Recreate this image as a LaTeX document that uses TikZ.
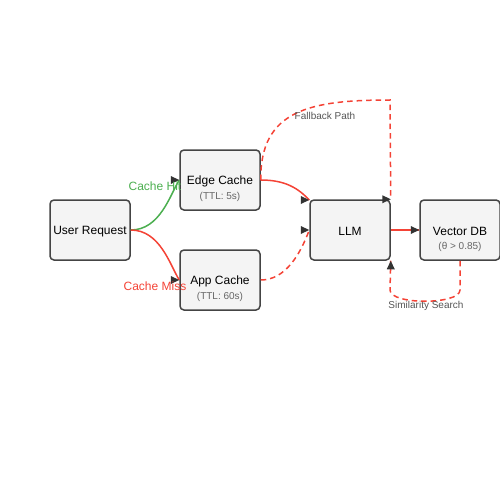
\documentclass[tikz,border=0pt]{standalone}
\usepackage{fontspec}
\setmainfont{Liberation Sans}
\definecolor{boxfill}{HTML}{F4F4F4}
\definecolor{boxline}{HTML}{444444}
\definecolor{hitgreen}{HTML}{4CAF50}
\definecolor{missred}{HTML}{F44336}
\definecolor{tipcol}{HTML}{333333}
\definecolor{subgray}{HTML}{666666}
\definecolor{lblgray}{HTML}{555555}
\begin{document}
\begin{tikzpicture}[x=1pt,y=-1pt,
  box/.style={draw=boxline,line width=1.5pt,fill=boxfill,rounded corners=4pt,minimum width=80pt,minimum height=60pt,inner sep=0pt},
  title/.style={font=\fontsize{12}{14}\selectfont,text=black,inner sep=0pt},
  sub/.style={font=\fontsize{10}{12}\selectfont,text=subgray,inner sep=0pt},
  solidred/.style={draw=missred,line width=1.5pt},
  dashred/.style={draw=missred,line width=1.5pt,dash pattern=on 5.5pt off 4pt},
  solidgreen/.style={draw=hitgreen,line width=1.5pt},
  edgelbl/.style={font=\fontsize{12}{14}\selectfont,inner sep=0pt},
  pathlbl/.style={font=\fontsize{10}{12}\selectfont,text=lblgray,inner sep=0pt},
  tipr/.style={fill=tipcol},
]
\useasboundingbox (0,0) rectangle (500,500);

% nodes
\node[box] (user) at (90,230) {};
\node[title] at ([yshift=-1.5pt]user.center) {User Request};
\node[box] (edge) at (220,180) {};
\node[title] at ([yshift=-1.5pt]edge.center) {Edge Cache};
\node[sub] at ([yshift=-17pt]edge.center) {(TTL: 5s)};
\node[box] (app) at (220,280) {};
\node[title] at ([yshift=-1.5pt]app.center) {App Cache};
\node[sub] at ([yshift=-17pt]app.center) {(TTL: 60s)};
\node[box] (llm) at (350,230) {};
\node[title] at ([yshift=-1.5pt]llm.center) {LLM};
\node[box] (vdb) at (460,230) {};
\node[title] at ([yshift=-1.5pt]vdb.center) {Vector DB};
\node[sub] at ([yshift=-17pt]vdb.center) {(θ > 0.85)};

% coordinates for connector ends
\coordinate (llmA) at ([yshift=30pt]llm.west);   % (310,200)
\coordinate (fbtop) at (390,100);
\coordinate (simA) at (460,290);
\coordinate (simB) at (390,290);

% connectors
\draw[solidgreen] (user.east) .. controls (160,230) and (170,195) .. (edge.west);
\draw[solidred] (user.east) .. controls (160,230) and (170,265) .. (app.west);
\draw[solidred] (edge.east) .. controls (285,180) and (298,188) .. (llmA);
\draw[dashred] (app.east) .. controls (285,280) and (300,255) .. (llm.west);
\draw[dashred] (edge.east) .. controls (260,110) and (310,100) .. (fbtop) -- (llm.north east);
\draw[solidred] (llm.east) -- (vdb.west);
\draw[dashred] (vdb.south) -- (simA) .. controls (460,305) and (390,305) .. (simB) -- (llm.south east);

% arrow tips
\fill[tipr] (edge.west) -- ++(-8.5,-4) -- ++(0,8) -- cycle;
\fill[tipr] (app.west) -- ++(-8.5,-4) -- ++(0,8) -- cycle;
\fill[tipr] (llmA) -- ++(-8.5,-4) -- ++(0,8) -- cycle;
\fill[tipr] (llm.west) -- ++(-8.5,-4) -- ++(0,8) -- cycle;
\fill[tipr] (llm.north east) -- ++(-8.5,-4) -- ++(0,8) -- cycle;
\fill[tipr] (vdb.west) -- ++(-8.5,-4) -- ++(0,8) -- cycle;
\fill[tipr] (llm.south east) -- ++(-4,8.5) -- ++(8,0) -- cycle;

% labels
\node[edgelbl,text=hitgreen] (lhit) at (155,186) {Cache Hit};
\node[edgelbl,text=missred] (lmiss) at (155,286) {Cache Miss};
\node[pathlbl] (lfb) at (325,116) {Fallback Path};
\node[pathlbl] (lsim) at (426,306) {Similarity Search};
\end{tikzpicture}
\end{document}
